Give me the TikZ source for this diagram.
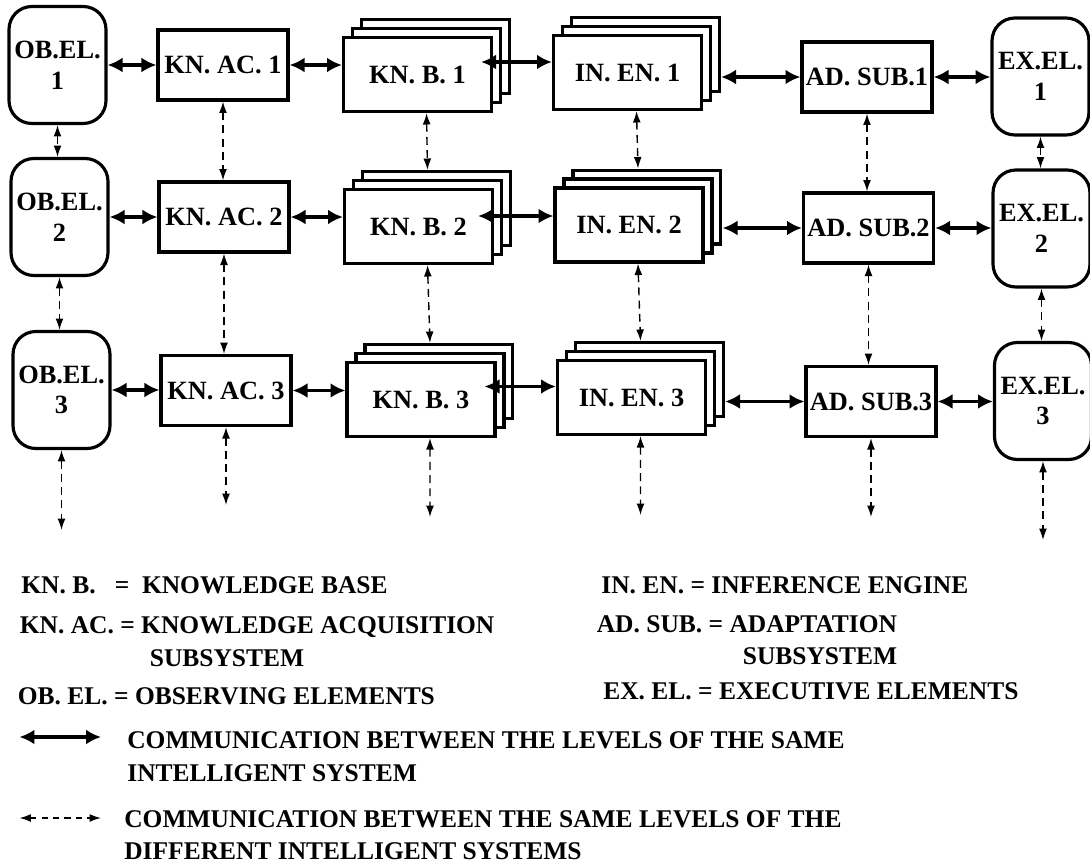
\documentclass[tikz,border=0pt]{standalone}
\usepackage{fontspec}
\setmainfont{Liberation Serif}
\usepackage{tikz}
\usetikzlibrary{calc, arrows.meta, shadows}
\tikzset{>=latex}
\definecolor{myblack}{RGB}{0, 0, 0}
\tikzset{
  blk/.style 2 args={draw = myblack, line width = 1.8pt, fill = white, inner sep = 0pt,
    minimum width = #1*0.2mm, minimum height = #2*0.2mm, align = center,
    font = \bfseries\fontsize{15}{17.5}\selectfont},
  elbox/.style={blk={97}{117}, rounded corners = 13pt},
  acbox/.style={blk={130}{70}},
  stackbox/.style={blk={148}{74},
    copy shadow={shadow xshift = 10.2pt, shadow yshift = 10.2pt, line width = 1.8pt},
    copy shadow={shadow xshift = 5.1pt, shadow yshift = 5.1pt, line width = 1.8pt}},
  samesys/.style={<->, line width = 2pt, >={Latex[length = 8.5pt, width = 8.5pt]}},
  crosssys/.style={<->, line width = 0.8pt, dash pattern = on 4.5pt off 3pt,
    >={Latex[length = 6.5pt, width = 4.5pt]}},
  note/.style={anchor = base west, inner sep = 0pt, font = \bfseries\fontsize{14.5}{17.5}\selectfont}
}
\begin{document}
\begin{tikzpicture}[x = 0.02cm, y = -0.02cm]
\useasboundingbox (0, 0) rectangle (1090, 863);
\node[elbox] (ob1) at (57.5, 65) {OB.EL.\\1};
\node[acbox] (ka1) at (223, 65) {KN. AC. 1};
\node[stackbox] (kb1) at (417.5, 74.5) {KN. B. 1};
\node[stackbox] (ie1) at (627.5, 72.5) {IN. EN. 1};
\node[acbox] (as1) at (867, 77) {AD. SUB.1};
\node[elbox] (ex1) at (1040.5, 76.5) {EX.EL.\\1};
\node[elbox] (ob2) at (59.5, 217) {OB.EL.\\2};
\node[acbox] (ka2) at (224, 217) {KN. AC. 2};
\node[stackbox] (kb2) at (418.5, 226.5) {KN. B. 2};
\node[stackbox] (ie2) at (629, 225) {IN. EN. 2};
\node[acbox] (as2) at (868.5, 228) {AD. SUB.2};
\node[elbox] (ex2) at (1041.5, 228.5) {EX.EL.\\2};
\node[elbox] (ob3) at (61.5, 390) {OB.EL.\\3};
\node[acbox] (ka3) at (226, 390.5) {KN. AC. 3};
\node[stackbox] (kb3) at (421, 399.5) {KN. B. 3};
\node[stackbox] (ie3) at (631.5, 397.5) {IN. EN. 3};
\node[acbox] (as3) at (871, 401.5) {AD. SUB.3};
\node[elbox] (ex3) at (1043, 401) {EX.EL.\\3};
\draw[samesys] (ob1.east) -- (ob1.east -| ka1.west);
\draw[samesys] (ka1.east) -- (ka1.east -| kb1.west);
\draw[samesys] ([shift={(-12, -12.5)}]kb1.east) coordinate (kbie1) -- (kbie1 -| ie1.west);
\draw[samesys] ($(as1.west -| ie1.east)+(18, 0)$) -- (as1.west);
\draw[samesys] (as1.east) -- (as1.east -| ex1.west);
\draw[samesys] (ob2.east) -- (ob2.east -| ka2.west);
\draw[samesys] (ka2.east) -- (ka2.east -| kb2.west);
\draw[samesys] ([shift={(-16, -10.5)}]kb2.east) coordinate (kbie2) -- (kbie2 -| ie2.west);
\draw[samesys] ($(as2.west -| ie2.east)+(18, 0)$) -- (as2.west);
\draw[samesys] (as2.east) -- (as2.east -| ex2.west);
\draw[samesys] (ob3.east) -- (ob3.east -| ka3.west);
\draw[samesys] (ka3.east) -- (ka3.east -| kb3.west);
\draw[samesys] ([shift={(-12, -13)}]kb3.east) coordinate (kbie3) -- (kbie3 -| ie3.west);
\draw[samesys] ($(as3.west -| ie3.east)+(18, 0)$) -- (as3.west);
\draw[samesys] (as3.east) -- (as3.east -| ex3.west);
\draw[crosssys] (ob1.south) -- (ob1.south |- ob2.north);
\draw[crosssys] (ob2.south) -- (ob2.south |- ob3.north);
\draw[crosssys] (ka1.south) -- (ka1.south |- ka2.north);
\draw[crosssys] (ka2.south) -- (ka2.south |- ka3.north);
\draw[crosssys] ([xshift = 0.18cm]kb1.south) -- ([xshift = 0.18cm, yshift = 0.36cm]kb2.north);
\draw[crosssys] ([xshift = 0.18cm]kb2.south) -- ([xshift = 0.18cm, yshift = 0.36cm]kb3.north);
\draw[crosssys] ([xshift = 0.18cm]ie1.south) -- ([xshift = 0.18cm, yshift = 0.36cm]ie2.north);
\draw[crosssys] ([xshift = 0.18cm]ie2.south) -- ([xshift = 0.18cm, yshift = 0.36cm]ie3.north);
\draw[crosssys] (as1.south) -- (as1.south |- as2.north);
\draw[crosssys] (as2.south) -- (as2.south |- as3.north);
\draw[crosssys] (ex1.south) -- (ex1.south |- ex2.north);
\draw[crosssys] (ex2.south) -- (ex2.south |- ex3.north);
\coordinate (obend) at (61.5, 530);
\coordinate (kaend) at (226, 505);
\coordinate (kbend) at (430, 517);
\coordinate (ieend) at (640.5, 515);
\coordinate (asend) at (871, 517);
\coordinate (exend) at (1043, 540);
\draw[crosssys] (ob3.south) -- (obend);
\draw[crosssys] (ka3.south) -- (kaend);
\draw[crosssys] ([xshift = 0.18cm]kb3.south) -- (kbend);
\draw[crosssys] ([xshift = 0.18cm]ie3.south) -- (ieend);
\draw[crosssys] (as3.south) -- (asend);
\draw[crosssys] (ex3.south) -- (exend);
\node[note] (lgkb) at (21, 593) {KN. B.~~~=~~KNOWLEDGE BASE};
\node[note] (lgka) at (19.5, 633) {KN. AC. = KNOWLEDGE ACQUISITION};
\node[note] (lgkasub) at (149.5, 666) {SUBSYSTEM};
\node[note] (lgob) at (17.5, 704) {OB. EL. = OBSERVING ELEMENTS};
\node[note] (lgie) at (601, 593) {IN. EN. = INFERENCE ENGINE};
\node[note] (lgas) at (596.5, 632) {AD. SUB. = ADAPTATION};
\node[note] (lgassub) at (742.5, 664) {SUBSYSTEM};
\node[note] (lgex) at (603, 699) {EX. EL. = EXECUTIVE ELEMENTS};
\coordinate (solidl) at (19.5, 737);
\coordinate (solidr) at (101, 737);
\draw[samesys] (solidl) -- (solidr);
\node[note] (lgsame) at (127, 748) {COMMUNICATION BETWEEN THE LEVELS OF THE SAME};
\node[note] (lgsame2) at (127, 781) {INTELLIGENT SYSTEM};
\coordinate (dashl) at (19.5, 818);
\coordinate (dashr) at (101, 818);
\draw[crosssys, dash pattern = on 3.5pt off 3pt] (dashl) -- (dashr);
\node[note] (lgcross) at (124, 827) {COMMUNICATION BETWEEN THE SAME LEVELS OF THE};
\node[note] (lgcross2) at (124, 859) {DIFFERENT INTELLIGENT SYSTEMS};
\end{tikzpicture}
\end{document}
